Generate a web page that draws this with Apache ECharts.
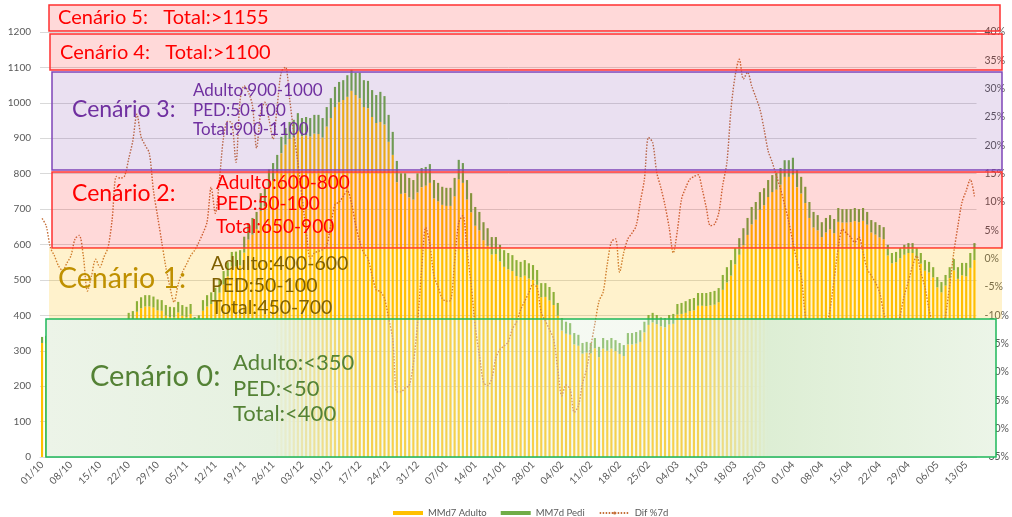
<!DOCTYPE html>
<html>
<head>
<meta charset="utf-8">
<title>Cenários</title>
<script src="https://cdn.jsdelivr.net/npm/echarts@6/dist/echarts.min.js"></script>
<style>
  html, body { margin: 0; padding: 0; background: #fff; }
  #chart { width: 1012px; height: 517px; }
</style>
</head>
<body>
<div id="chart"></div>
<script>
  // daily values, starting 01/10
  var adulto = [
    322,
    320,322,324,325,328,329,331,333,334,336,339,340,342,345,347,349,352,354,356,358,
    379,382,410,420,425,425,422,414,413,399,395,394,408,399,395,404,367,371,
    413,425,432,443,464,487,510,538,538,541,577,614,628,644,695,708,760,
    780,805,858,882,898,903,921,906,908,905,913,912,902,933,
    957,988,1002,1008,1017,1034,1022,1013,988,985,960,943,946,939,890,853,
    776,743,745,733,727,747,762,766,774,730,722,712,709,709,736,784,774,727,691,
    653,640,612,596,572,573,552,537,530,525,511,507,512,504,500,486,451,452,442,429,399,
    357,348,345,318,314,292,295,293,307,282,306,300,306,299,291,285,318,318,320,325,
    352,373,380,375,369,366,374,376,402,404,407,412,414,427,427,426,428,430,437,472,
    493,512,544,571,598,627,657,670,698,711,734,748,755,769,791,791,797,762,744,717,
    675,648,640,621,634,643,632,664,662,662,663,666,663,667,656,634,628,620,615,
    569,547,550,561,571,576,576,561,546,526,521,507,479,465,484,505,527,503,513,510,534,556
  ];
  var pedi = [
    17,
    22,23,23,24,24,25,25,25,26,26,26,27,27,27,28,28,28,29,29,30,
    28,30,30,31,32,32,31,31,30,30,29,29,30,30,29,28,28,29,
    30,32,33,35,36,38,40,41,42,43,45,46,47,48,50,51,52,
    50,48,46,47,48,49,50,51,52,52,53,54,55,55,
    56,57,57,56,61,59,63,72,76,77,76,79,85,80,76,65,
    60,58,56,55,55,54,54,53,53,52,52,51,51,51,52,55,56,55,54,
    53,52,51,50,49,48,47,47,46,45,45,44,44,43,42,42,40,39,38,37,36,
    35,34,33,32,31,30,30,29,29,29,30,30,30,31,31,31,32,32,33,33,
    30,28,27,26,25,26,27,28,30,31,33,34,35,36,36,37,38,39,40,42,
    43,44,46,47,48,48,49,50,50,48,48,48,47,47,47,47,48,48,47,46,
    45,44,43,42,41,40,40,39,38,38,37,37,37,36,36,35,35,35,34,
    30,29,29,29,28,28,28,29,30,30,30,29,29,29,30,31,32,33,35,38,42,48
  ];
  // Dif %7d, in percent
  var dif = [
    7.1,5.8,2.0,0.5,-1.3,-2.1,-0.8,0.5,3.5,4.1,
    0.5,-5.7,-3.0,-0.1,-1.5,0.3,2.0,7.0,14.5,14.2,
    14.6,17.6,20.8,25.5,21.5,20.0,18.6,12.0,7.5,3.0,
    -1.5,-5.0,-7.7,-4.5,-2.4,-1.0,0.5,1.5,2.9,4.5,
    6.5,12.6,8.0,14.0,21.5,24.2,24.0,17.0,28.0,30.5,
    29.4,27.0,19.5,25.8,27.6,24.6,21.1,27.0,33.0,33.8,
    28.2,22.3,17.0,11.0,5.0,0.0,1.0,1.3,1.6,2.3,
    6.0,9.5,10.0,11.0,12.0,9.8,6.0,3.0,1.0,0.0,
    -3.0,-5.5,-5.8,-7.0,-10.5,-14.2,-23.5,-23.5,-22.8,-22.4,
    -18.5,-11.5,-2.0,5.5,2.5,-3.0,-5.0,-7.0,-7.5,-7.4,
    -0.5,6.4,7.6,1.5,-4.5,-12.0,-17.0,-21.8,-22.4,-21.2,
    -17.5,-16.0,-15.4,-14.7,-12.4,-11.2,-9.0,-7.5,-6.0,-4.5,
    -5.1,-9.5,-11.0,-12.5,-14.2,-19.5,-24.2,-22.3,-23.0,-27.1,
    -26.0,-22.0,-19.5,-15.5,-11.5,-7.5,-5.9,-1.0,3.0,3.5,
    -2.4,1.1,3.5,4.5,5.8,10.0,14.0,21.4,20.5,15.2,
    12.5,9.4,5.5,1.0,5.0,10.5,12.5,14.0,14.5,14.8,
    12.3,9.0,5.8,6.1,8.0,13.0,17.0,26.4,32.3,35.2,
    31.7,32.9,30.5,28.5,26.4,22.9,19.0,17.0,14.6,12.3,
    9.5,6.5,2.9,-0.5,-3.0,-10.0,-13.0,-15.0,-16.0,-15.0,
    -12.5,-9.0,-3.6,2.0,5.2,4.5,3.8,2.9,3.8,1.1,
    -1.8,-3.0,-4.2,-5.9,-9.5,-12.0,-14.0,-13.0,-10.0,-6.5,
    -4.0,-1.3,0.5,-2.4,-5.0,-9.0,-12.0,-14.0,-13.0,-10.0,
    -4.7,1.1,5.8,10.0,12.0,14.0,11.0
  ];

  // dd/mm labels, one per day from 01/10
  var days = [];
  for (var i = 0; i < adulto.length; i++) {
    var d = new Date(Date.UTC(2020, 9, 1 + i));
    days.push(String(d.getUTCDate()).padStart(2, '0') + '/' + String(d.getUTCMonth() + 1).padStart(2, '0'));
  }

  var FONT = 'Lato, "Open Sans", sans-serif';

  // scenario boxes pasted over the plot
  function box(x, y, w, h, fill, stroke) {
    return {
      type: 'rect', z: 100,
      shape: { x: x, y: y, width: w, height: h },
      style: { fill: fill, stroke: stroke || null, lineWidth: stroke ? 1.5 : 0 }
    };
  }
  function txt(x, y, text, size, color) {
    return {
      type: 'text', z: 101, x: x, y: y,
      style: { text: text, fill: color, font: size + 'px ' + FONT, verticalAlign: 'middle' }
    };
  }

  var greenFade = new echarts.graphic.LinearGradient(0, 0, 1, 0, [
    { offset: 0, color: 'rgba(236,244,232,1)' },
    { offset: 0.24, color: 'rgba(230,241,224,1)' },
    { offset: 0.33, color: 'rgba(226,239,218,0.35)' },
    { offset: 0.68, color: 'rgba(226,239,218,0.35)' },
    { offset: 0.76, color: 'rgba(221,238,212,1)' },
    { offset: 1, color: 'rgba(236,245,232,1)' }
  ]);

  var overlays = [
    box(49, 5, 951, 26, 'rgba(255,0,0,0.15)', '#FF3030'),
    box(50, 34, 952, 36, 'rgba(255,0,0,0.15)', '#FF3030'),
    box(52, 72, 950, 98, 'rgba(112,48,160,0.15)', '#7F45B8'),
    box(52, 172, 950, 76, 'rgba(255,0,0,0.15)', '#FF3030'),
    box(49, 248, 953, 71, 'rgba(255,192,0,0.2)'),
    box(46, 319, 950, 138, greenFade, '#1EB85A'),

    txt(58, 18, 'Cenário 5:   Total:>1155', 20, '#FF0000'),
    txt(60, 53, 'Cenário 4:   Total:>1100', 20, '#FF0000'),

    txt(72, 110, 'Cenário 3:', 23, '#7030A0'),
    txt(193, 91, 'Adulto:900-1000', 17, '#7030A0'),
    txt(193, 111, 'PED:50-100', 17, '#7030A0'),
    txt(193, 130, 'Total:900-1100', 17, '#7030A0'),

    txt(72, 194, 'Cenário 2:', 23, '#FF0000'),
    txt(216, 183, 'Adulto:600-800', 19, '#FF0000'),
    txt(216, 204, 'PED:50-100', 19, '#FF0000'),
    txt(216, 227, 'Total:650-900', 19, '#FF0000'),

    txt(58, 279, 'Cenário 1:', 28.5, '#BF9000'),
    txt(211, 264, 'Adulto:400-600', 19.5, '#7F6000'),
    txt(211, 286, 'PED:50-100', 19.5, '#7F6000'),
    txt(211, 308, 'Total:450-700', 19.5, '#7F6000'),

    txt(90, 377, 'Cenário 0:', 29, '#548235'),
    txt(233, 363, 'Adulto:<350', 22, '#548235'),
    txt(233, 389, 'PED:<50', 22, '#548235'),
    txt(233, 414, 'Total:<400', 22, '#548235')
  ];

  var chart = echarts.init(document.getElementById('chart'));
  chart.setOption({
    animation: false,
    textStyle: { fontFamily: FONT },
    grid: { left: 40, right: 30, top: 32, bottom: 60 },
    legend: {
      left: 388, top: 503,
      itemWidth: 30, itemHeight: 4, itemGap: 14,
      textStyle: { fontSize: 9.5, color: '#595959' },
      data: [
        { name: 'MMd7 Adulto', icon: 'rect' },
        { name: 'MM7d Pedi', icon: 'rect' },
        { name: 'Dif %7d' }
      ]
    },
    xAxis: {
      type: 'category',
      data: days,
      axisLine: { lineStyle: { color: '#D9D9D9' } },
      axisTick: { interval: 6, length: 4, lineStyle: { color: '#BFBFBF' } },
      axisLabel: { interval: 6, rotate: 45, fontSize: 10, color: '#595959', margin: 6 }
    },
    yAxis: [
      {
        type: 'value', min: 0, max: 1200, interval: 100,
        axisLabel: {
          fontSize: 10, color: '#595959', margin: 9,
          formatter: function (v) { return String(v); }
        },
        splitLine: { lineStyle: { color: '#D9D9D9' } }
      },
      {
        type: 'value', min: -35, max: 40, interval: 5,
        axisLabel: { fontSize: 10.5, color: '#595959', margin: 8, formatter: '{value}%' },
        splitLine: { show: false }
      }
    ],
    series: [
      {
        name: 'MMd7 Adulto', type: 'bar', stack: 'total',
        barWidth: '52%', itemStyle: { color: '#FFC000' },
        data: adulto
      },
      {
        name: 'MM7d Pedi', type: 'bar', stack: 'total',
        barWidth: '52%', itemStyle: { color: '#70AD47' },
        data: pedi
      },
      {
        name: 'Dif %7d', type: 'line', yAxisIndex: 1,
        symbol: 'none', smooth: 0.3,
        lineStyle: { color: '#C5703A', width: 1.4, type: [1.5, 1.5] },
        itemStyle: { color: '#C5703A' },
        data: dif
      }
    ],
    graphic: overlays
  });
</script>
</body>
</html>
